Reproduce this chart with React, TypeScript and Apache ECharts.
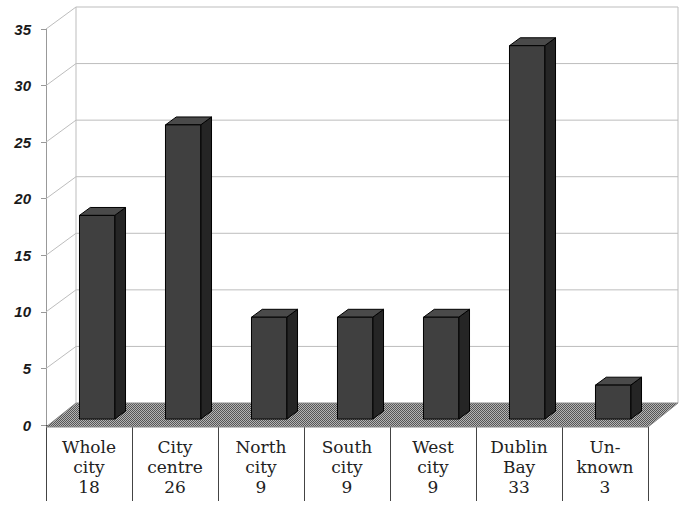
import React, { useEffect, useRef } from 'react';
import * as echarts from 'echarts';

const CATEGORIES = ['Whole\ncity', 'City\ncentre', 'North\ncity', 'South\ncity', 'West\ncity', 'Dublin\nBay', 'Un-\nknown'];
const VALUES = [18, 26, 9, 9, 9, 33, 3];
const Y_TICKS = [0, 5, 10, 15, 20, 25, 30, 35];

const DX = 30;
const DY = -22;
const BAR_FRONT = 0.27;
const BAR_BACK = 0.63;

function makeFloorPattern(): string {
  const c = document.createElement('canvas');
  c.width = 2;
  c.height = 2;
  const ctx = c.getContext('2d');
  if (!ctx) return '';
  ctx.fillStyle = '#b4b4b4';
  ctx.fillRect(0, 0, 2, 2);
  ctx.fillStyle = '#555555';
  ctx.fillRect(0, 0, 1, 1);
  ctx.fillRect(1, 1, 1, 1);
  return c.toDataURL();
}

export default function App() {
  const ref = useRef<HTMLDivElement>(null);
  useEffect(() => {
    document.body.style.margin = '0';
    if (!ref.current) return;
    const chart = echarts.init(ref.current, null, { renderer: 'svg' });
    const patternUrl = makeFloorPattern();
    const floorFill: any = patternUrl ? { image: patternUrl, repeat: 'repeat' } : '#808080';

    const option: any = {
      animation: false,
      backgroundColor: '#ffffff',
      grid: { left: 46, right: 35, top: 29, bottom: 82, containLabel: false },
      xAxis: {
        type: 'category',
        data: CATEGORIES,
        offset: 6,
        axisLine: { show: true, lineStyle: { color: '#444', width: 1 } },
        axisTick: { show: true, length: 76, interval: 0, lineStyle: { color: '#444', width: 1 } },
        axisLabel: {
          interval: 0,
          margin: 6,
          fontFamily: "'DejaVu Serif', serif",
          fontSize: 17,
          lineHeight: 20,
          color: '#222',
          formatter: (val: string, idx: number) => `${val}\n${VALUES[idx]}`,
        },
        splitLine: { show: false },
      },
      yAxis: {
        type: 'value',
        min: 0,
        max: 35,
        interval: 5,
        axisLine: { show: true, lineStyle: { color: '#999', width: 1 } },
        axisTick: { show: true, length: 5, lineStyle: { color: '#999' } },
        splitLine: { show: false },
        axisLabel: {
          margin: 15,
          fontFamily: "'Liberation Sans', Arial, sans-serif",
          fontWeight: 'bold',
          fontStyle: 'italic',
          fontSize: 15,
          color: '#1a1a1a',
        },
      },
      series: [
        {
          type: 'custom',
          silent: true,
          data: [[0, 0]],
          encode: { x: 0, y: 1 },
          z: 1,
          renderItem: (params: any, api: any) => {
            const cs = params.coordSys;
            const children: any[] = [];
            const lineStyle = { stroke: '#bdbdbd', lineWidth: 1, fill: 'none' };
            const top = api.coord([0, Y_TICKS[Y_TICKS.length - 1]])[1];
            const bottom = api.coord([0, 0])[1];
            children.push({ type: 'line', shape: { x1: cs.x + DX, y1: top + DY, x2: cs.x + DX, y2: bottom + DY }, style: lineStyle });
            children.push({ type: 'line', shape: { x1: cs.x + cs.width + DX, y1: top + DY, x2: cs.x + cs.width + DX, y2: bottom + DY }, style: lineStyle });
            for (const t of Y_TICKS) {
              const y = api.coord([0, t])[1];
              if (t > 0) {
                children.push({ type: 'line', shape: { x1: cs.x, y1: y, x2: cs.x + DX, y2: y + DY }, style: lineStyle });
                children.push({ type: 'line', shape: { x1: cs.x + DX, y1: y + DY, x2: cs.x + cs.width + DX, y2: y + DY }, style: lineStyle });
              }
            }
            children.push({
              type: 'polygon',
              shape: {
                points: [
                  [cs.x, bottom + 2],
                  [cs.x + DX, bottom + DY],
                  [cs.x + cs.width + DX, bottom + DY],
                  [cs.x + cs.width, bottom + 2],
                ],
              },
              style: { fill: floorFill, stroke: '#888', lineWidth: 1 },
            });
            return { type: 'group', children };
          },
        },
        {
          type: 'custom',
          data: VALUES.map((v, i) => [i, v]),
          encode: { x: 0, y: 1 },
          z: 2,
          renderItem: (params: any, api: any) => {
            const idx = api.value(0);
            const v = api.value(1);
            const base = api.coord([idx, 0]);
            const topP = api.coord([idx, v]);
            const bw = api.size([1, 0])[0] * 0.41;
            const fx = BAR_FRONT * DX;
            const fy = BAR_FRONT * DY;
            const ddx = (BAR_BACK - BAR_FRONT) * DX;
            const ddy = (BAR_BACK - BAR_FRONT) * DY;
            const xl = base[0] - bw / 2 + fx;
            const xr = base[0] + bw / 2 + fx;
            const yb = base[1] + fy;
            const yt = topP[1] + fy;
            return {
              type: 'group',
              children: [
                {
                  type: 'polygon',
                  shape: { points: [[xr, yb], [xr + ddx, yb + ddy], [xr + ddx, yt + ddy], [xr, yt]] },
                  style: { fill: '#252525', stroke: '#000', lineWidth: 1 },
                },
                {
                  type: 'polygon',
                  shape: { points: [[xl, yt], [xr, yt], [xr + ddx, yt + ddy], [xl + ddx, yt + ddy]] },
                  style: { fill: '#4a4a4a', stroke: '#000', lineWidth: 1 },
                },
                {
                  type: 'rect',
                  shape: { x: xl, y: yt, width: xr - xl, height: yb - yt },
                  style: { fill: '#404040', stroke: '#000', lineWidth: 1 },
                },
              ],
            };
          },
        },
      ],
    };
    chart.setOption(option);
    return () => {
      chart.dispose();
    };
  }, []);
  return <div ref={ref} style={{ width: 683, height: 507 }} />;
}
